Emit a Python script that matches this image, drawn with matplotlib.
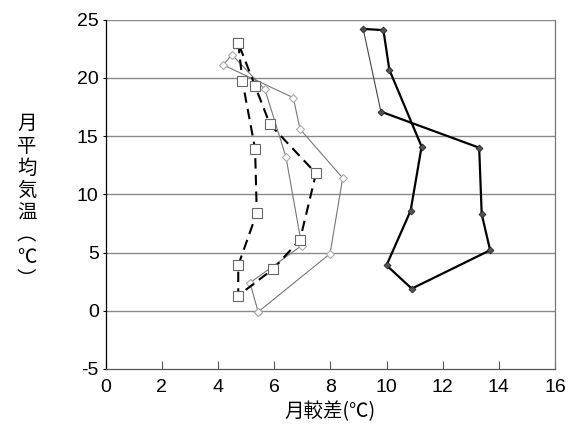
#!/usr/bin/env python

import matplotlib
matplotlib.use("Agg")
import matplotlib.pyplot as plt

plt.rcParams['font.family'] = ['Liberation Sans', 'DejaVu Sans']
plt.rcParams['axes.unicode_minus'] = False
cjk = ['Noto Sans CJK JP', 'DejaVu Sans']

# loop 1: thick solid, small dark diamonds (right side)
range_a = [9.17, 9.89, 10.10, 11.25, 10.86, 10.00, 10.90, 13.69, 13.39, 13.30, 9.80]
temp_a = [24.2, 24.1, 20.7, 14.1, 8.6, 3.9, 1.9, 5.2, 8.3, 14.0, 17.1]

# loop 2: dashed, hollow squares
range_b = [4.72, 4.87, 5.32, 5.38, 4.72, 4.72, 5.97, 6.92, 7.49, 5.85, 5.32]
temp_b = [23.0, 19.7, 13.9, 8.4, 3.9, 1.3, 3.6, 6.1, 11.8, 16.0, 19.3]

# loop 3: thin gray, hollow diamonds
range_c = [5.43, 7.99, 8.44, 6.92, 6.68, 4.19, 4.49, 5.67, 6.42, 6.98, 5.14]
temp_c = [-0.1, 4.9, 11.4, 15.6, 18.3, 21.1, 22.0, 19.0, 13.2, 5.6, 2.4]

xticks = [0, 2, 4, 6, 8, 10, 12, 14, 16]
yticks = [-5, 0, 5, 10, 15, 20, 25]

fig = plt.figure(figsize=(5.82, 4.34), dpi=100)
ax = fig.add_axes([0.1816, 0.1498, 0.772, 0.805])

# horizontal grid
for y in yticks[1:]:
    ax.axhline(y, color='#8a8a8a', lw=1.0, zorder=0)

# thin gray loop (closed)
ax.plot(range_c + range_c[:1], temp_c + temp_c[:1], color='#777777', lw=0.8,
        marker='D', ms=4.5, mfc='white', mec='#aaaaaa', mew=0.8, zorder=2)

# dashed square loop (closed)
ax.plot(range_b + range_b[:1], temp_b + temp_b[:1], color='black', lw=1.5,
        ls=(0, (5, 3)), marker='s', ms=6.5, mfc='white', mec='#666666', mew=0.8,
        zorder=3)

# thick dark loop; last segment drawn thin
ax.plot(range_a, temp_a, color='black', lw=1.6, marker='D', ms=3.5,
        mfc='#555555', mec='#222222', mew=0.6, zorder=4)
ax.plot([range_a[-1], range_a[0]], [temp_a[-1], temp_a[0]], color='#444444',
        lw=0.8, zorder=4)

ax.set_xlim(0, 16)
ax.set_ylim(-5, 25)
ax.set_xticks(xticks)
ax.set_yticks(yticks)
ax.tick_params(axis='x', direction='in', length=6, width=0.8, color='#555555',
               labelsize=14, pad=7)
ax.tick_params(axis='y', direction='out', length=2, width=0.8,
               labelsize=14, pad=3)

ax.spines['left'].set_color('black')
ax.spines['bottom'].set_color('#555555')
ax.spines['right'].set_color('#777777')
ax.spines['top'].set_visible(False)
for s in ax.spines.values():
    s.set_linewidth(0.9)

ax.set_xlabel('月較差(℃)', family=cjk, fontsize=14, labelpad=4)
fig.text(0.046, 0.535, '月\n平\n均\n気\n温\n︵\n℃\n︶', family=cjk, fontsize=14,
         ha='center', va='center', linespacing=1.08)

fig.savefig('out.png', dpi=100)
